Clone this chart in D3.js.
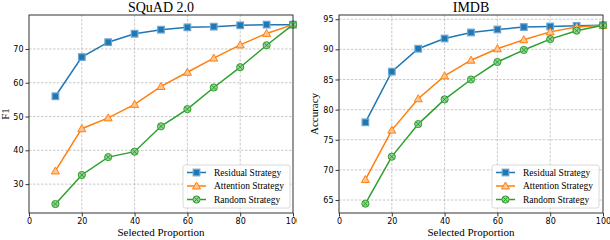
<!DOCTYPE html>
<html>
<head>
<meta charset="utf-8">
<script src="https://cdnjs.cloudflare.com/ajax/libs/d3/7.8.5/d3.min.js"></script>
<style>
body { margin: 0; background: #fff; }
svg { display: block; }
.tick text { font-family: "DejaVu Sans", sans-serif; font-size: 8px; fill: #000; }
.serif { font-family: "Liberation Serif", "DejaVu Serif", serif; fill: #000; }
.grid line { stroke: #b0b0b0; stroke-dasharray: 2.5,1.5; stroke-width: 0.7; }
</style>
</head>
<body>
<svg id="chart" width="610" height="240"></svg>
<script>

var proportions = [10, 20, 30, 40, 50, 60, 70, 80, 90, 100]
var xTicks = [0, 20, 40, 60, 80, 100]

var squadResidual  = [56.0, 67.6, 72.0, 74.5, 75.7, 76.4, 76.6, 77.0, 77.2, 77.2]
var squadAttention = [33.9, 46.4, 49.6, 53.6, 58.9, 63.1, 67.3, 71.2, 74.6, 77.2]
var squadRandom    = [24.1, 32.7, 38.0, 39.6, 47.1, 52.2, 58.6, 64.6, 71.1, 77.2]
var squadTicks = [30, 40, 50, 60, 70]

var imdbResidual  = [77.9, 86.3, 90.1, 91.8, 92.8, 93.3, 93.7, 93.8, 93.9, 94.0]
var imdbAttention = [68.4, 76.6, 81.8, 85.6, 88.2, 90.1, 91.6, 92.9, 93.7, 94.0]
var imdbRandom    = [64.4, 72.2, 77.6, 81.7, 85.0, 87.9, 89.9, 91.7, 93.1, 94.0]
var imdbTicks = [65, 70, 75, 80, 85, 90, 95]

var seriesNames = ['Residual Strategy', 'Attention Strategy', 'Random Strategy']
var colors = ['#1f77b4', '#ff7f0e', '#2ca02c']
var lightColors = ['#6fa6d0', '#ffc48f', '#95d095']
var shapes = ['square', 'triangle', 'circle']

var svg = d3.select('#chart')

svg.append('defs').append('clipPath').attr('id', 'leftClip')
  .append('rect').attr('x', 0).attr('y', 0).attr('width', 297).attr('height', 240)

function drawMarker(g, shape, i, x, y) {
  if (shape == 'square') {
    g.append('rect').attr('x', x - 3.3).attr('y', y - 3.3).attr('width', 6.6).attr('height', 6.6)
      .attr('fill', colors[i]).attr('stroke', lightColors[i]).attr('stroke-width', 1.2)
  } else if (shape == 'triangle') {
    var s = 4
    g.append('path')
      .attr('d', 'M' + x + ',' + (y - s) + 'L' + (x + s) + ',' + (y + s * 0.75) + 'L' + (x - s) + ',' + (y + s * 0.75) + 'Z')
      .attr('fill', lightColors[i]).attr('stroke', colors[i]).attr('stroke-width', 1)
  } else {
    g.append('circle').attr('cx', x).attr('cy', y).attr('r', 3.6)
      .attr('fill', lightColors[i]).attr('stroke', colors[i]).attr('stroke-width', 1)
    var d = 2.2
    g.append('path')
      .attr('d', 'M' + (x - d) + ',' + (y - d) + 'L' + (x + d) + ',' + (y + d) + 'M' + (x + d) + ',' + (y - d) + 'L' + (x - d) + ',' + (y + d))
      .attr('stroke', colors[i]).attr('stroke-width', 1)
  }
}

function drawPanel(opts) {
  var g = svg.append('g')
  if (opts.clip) g.attr('clip-path', 'url(#' + opts.clip + ')')

  var x = d3.scaleLinear().domain([0, 100]).range([opts.left, opts.right])
  var y = d3.scaleLinear().domain(opts.yDomain).range([213, 15])

  // grid
  g.append('g').attr('class', 'grid')
    .selectAll('line.gx').data(xTicks.slice(1, -1)).enter().append('line')
    .attr('x1', d => x(d)).attr('x2', d => x(d)).attr('y1', 15).attr('y2', 213)
  g.append('g').attr('class', 'grid')
    .selectAll('line.gy').data(opts.yTicks).enter().append('line')
    .attr('x1', opts.left).attr('x2', opts.right).attr('y1', d => y(d)).attr('y2', d => y(d))

  // axes
  var xa = g.append('g').attr('transform', 'translate(0,213)')
    .call(d3.axisBottom(x).tickValues(xTicks).tickSize(3.5).tickPadding(2))
  var ya = g.append('g').attr('transform', 'translate(' + opts.left + ',0)')
    .call(d3.axisLeft(y).tickValues(opts.yTicks).tickSize(3.5).tickPadding(2))
  ;[xa, ya].forEach(function(a) {
    a.select('.domain').remove()
    a.selectAll('.tick line').attr('stroke', '#000').attr('stroke-width', 0.8)
  })

  // lines and markers
  opts.series.forEach(function(vals, i) {
    var pts = proportions.map((p, k) => [x(p), y(vals[k])])
    g.append('path').attr('d', d3.line()(pts))
      .attr('fill', 'none').attr('stroke', colors[i]).attr('stroke-width', 1.5)
    var mg = g.append('g')
    pts.forEach(p => drawMarker(mg, shapes[i], i, p[0], p[1]))
  })

  // frame
  g.append('rect').attr('x', opts.left).attr('y', 15)
    .attr('width', opts.right - opts.left).attr('height', 198)
    .attr('fill', 'none').attr('stroke', '#333').attr('stroke-width', 1)

  // title and labels
  var cx = (opts.left + opts.right) / 2
  g.append('text').attr('class', 'serif').attr('x', cx).attr('y', 12)
    .attr('text-anchor', 'middle').style('font-size', '14px').text(opts.title)
  g.append('text').attr('class', 'serif').attr('x', cx).attr('y', 236)
    .attr('text-anchor', 'middle').style('font-size', '11px').text('Selected Proportion')
  g.append('text').attr('class', 'serif')
    .attr('transform', 'translate(' + opts.yLabelX + ',114) rotate(-90)')
    .attr('text-anchor', 'middle').style('font-size', '11px').text(opts.yLabel)

  // legend
  var lx = opts.legendX, ly = 165
  var lg = g.append('g')
  lg.append('rect').attr('x', lx).attr('y', ly).attr('width', 107).attr('height', 43)
    .attr('rx', 2).attr('fill', '#fff').attr('fill-opacity', 0.85)
    .attr('stroke', '#d0d0d0').attr('stroke-width', 0.8)
  seriesNames.forEach(function(name, i) {
    var yy = ly + 7.5 + i * 13.5
    lg.append('line').attr('x1', lx + 4).attr('x2', lx + 23).attr('y1', yy).attr('y2', yy)
      .attr('stroke', colors[i]).attr('stroke-width', 1.5)
    drawMarker(lg, shapes[i], i, lx + 13.5, yy)
    lg.append('text').attr('class', 'serif').attr('x', lx + 31).attr('y', yy + 3.3)
      .style('font-size', '9.5px').text(name)
  })
}

drawPanel({
  title: 'SQuAD 2.0', yLabel: 'F1', yLabelX: 9,
  left: 29, right: 293, yDomain: [21.45, 80.05], yTicks: squadTicks,
  series: [squadResidual, squadAttention, squadRandom],
  legendX: 183, clip: 'leftClip'
})

drawPanel({
  title: 'IMDB', yLabel: 'Accuracy', yLabelX: 318,
  left: 339, right: 603, yDomain: [62.85, 95.7], yTicks: imdbTicks,
  series: [imdbResidual, imdbAttention, imdbRandom],
  legendX: 492
})

</script>
</body>
</html>
